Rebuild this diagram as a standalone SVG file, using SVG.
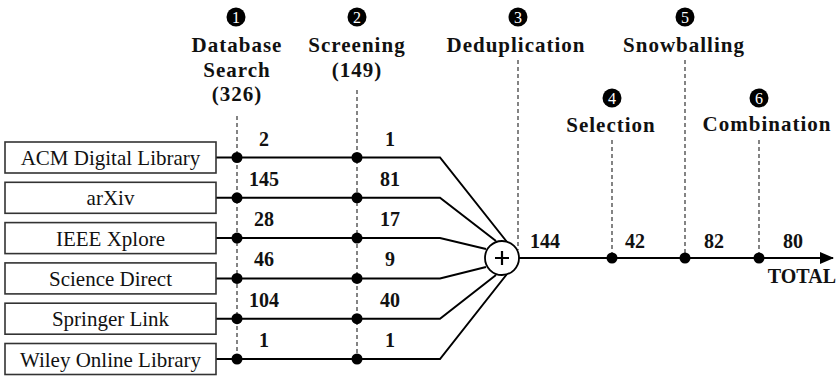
<svg xmlns="http://www.w3.org/2000/svg" width="837" height="377" viewBox="0 0 837 377">
<style>
.box{fill:#fff;stroke:#333;stroke-width:1.6}
.bt{font-family:"Liberation Serif","DejaVu Serif",serif;font-size:21px;fill:#111;text-anchor:middle}
.lb{font-family:"Liberation Serif","DejaVu Serif",serif;font-size:21px;font-weight:bold;fill:#111;text-anchor:middle;letter-spacing:1px}
.num{font-family:"Liberation Serif","DejaVu Serif",serif;font-size:20px;font-weight:bold;fill:#111;text-anchor:middle}
.mk{fill:#000}
.mt{font-family:"Liberation Serif","DejaVu Serif",serif;font-size:16px;fill:#fff;text-anchor:middle}
.ln{stroke:#000;stroke-width:2;fill:none}
.dash{stroke:#333;stroke-width:1.2;stroke-dasharray:4 3;fill:none}
.dot{fill:#000}
</style>
<defs>
<marker id="arr" markerWidth="14" markerHeight="12" refX="13" refY="6" orient="auto" markerUnits="userSpaceOnUse">
<path d="M0,0 L14,6 L0,12 z" fill="#000"/>
</marker>
</defs>

<g id="steps">
<g id="step1">
<circle class="mk" cx="236" cy="17" r="9.5"/><text class="mt" x="236" y="22.5">1</text>
<text class="lb" x="237" y="52">Database</text>
<text class="lb" x="237" y="77">Search</text>
<text class="lb" x="237" y="101">(326)</text>
</g>
<g id="step2">
<circle class="mk" cx="357" cy="17" r="9.5"/><text class="mt" x="357" y="22.5">2</text>
<text class="lb" x="357" y="52">Screening</text>
<text class="lb" x="357" y="77">(149)</text>
</g>
<g id="step3">
<circle class="mk" cx="518" cy="17" r="9.5"/><text class="mt" x="518" y="22.5">3</text>
<text class="lb" x="516" y="52">Deduplication</text>
</g>
<g id="step4">
<circle class="mk" cx="612" cy="98" r="9.5"/><text class="mt" x="612" y="103.5">4</text>
<text class="lb" x="611" y="132">Selection</text>
</g>
<g id="step5">
<circle class="mk" cx="685" cy="17" r="9.5"/><text class="mt" x="685" y="22.5">5</text>
<text class="lb" x="684" y="52">Snowballing</text>
</g>
<g id="step6">
<circle class="mk" cx="759" cy="98" r="9.5"/><text class="mt" x="759" y="103.5">6</text>
<text class="lb" x="767" y="131">Combination</text>
</g>
</g>

<g id="connectors">
<line class="dash" x1="237" y1="116" x2="237" y2="359"/>
<line class="dash" x1="357" y1="90" x2="357" y2="359"/>
<line class="dash" x1="518" y1="60" x2="518" y2="250"/>
<line class="dash" x1="612" y1="140" x2="612" y2="258"/>
<line class="dash" x1="685" y1="60" x2="685" y2="258"/>
<line class="dash" x1="759" y1="140" x2="759" y2="258"/>

<polyline class="ln" points="216,157.5 440,157.5 507,242"/>
<polyline class="ln" points="216,197.8 440,197.8 496,241"/>
<polyline class="ln" points="216,238.1 440,238.1 486,249"/>
<polyline class="ln" points="216,278.4 440,278.4 486,267"/>
<polyline class="ln" points="216,318.7 440,318.7 496,275"/>
<polyline class="ln" points="216,359 440,359 507,274"/>

<line class="ln" x1="519" y1="258" x2="833" y2="258" marker-end="url(#arr)"/>

<circle class="dot" cx="237" cy="157.5" r="5.5"/>
<circle class="dot" cx="237" cy="197.8" r="5.5"/>
<circle class="dot" cx="237" cy="238.1" r="5.5"/>
<circle class="dot" cx="237" cy="278.4" r="5.5"/>
<circle class="dot" cx="237" cy="318.7" r="5.5"/>
<circle class="dot" cx="237" cy="359" r="5.5"/>
<circle class="dot" cx="357" cy="157.5" r="5.5"/>
<circle class="dot" cx="357" cy="197.8" r="5.5"/>
<circle class="dot" cx="357" cy="238.1" r="5.5"/>
<circle class="dot" cx="357" cy="278.4" r="5.5"/>
<circle class="dot" cx="357" cy="318.7" r="5.5"/>
<circle class="dot" cx="357" cy="359" r="5.5"/>
<circle class="dot" cx="612" cy="258" r="5.5"/>
<circle class="dot" cx="685" cy="258" r="5.5"/>
<circle class="dot" cx="759" cy="258" r="5.5"/>

<text class="num" x="264" y="146">2</text>
<text class="num" x="264" y="186">145</text>
<text class="num" x="264" y="226">28</text>
<text class="num" x="264" y="266">46</text>
<text class="num" x="264" y="307">104</text>
<text class="num" x="264" y="347">1</text>
<text class="num" x="390" y="146">1</text>
<text class="num" x="390" y="186">81</text>
<text class="num" x="390" y="226">17</text>
<text class="num" x="390" y="266">9</text>
<text class="num" x="390" y="307">40</text>
<text class="num" x="390" y="347">1</text>
<text class="num" x="545" y="248">144</text>
<text class="num" x="635" y="248">42</text>
<text class="num" x="714" y="248">82</text>
<text class="num" x="793" y="248">80</text>
<text class="num" x="836" y="283" style="text-anchor:end">TOTAL</text>
</g>

<g id="sum">
<circle cx="502" cy="258" r="17" fill="#fff" stroke="#000" stroke-width="1.8"/>
<path d="M495,258 H509 M502,251 V265" stroke="#000" stroke-width="2.2"/>
</g>

<g id="sources">
<g id="acm"><rect class="box" x="5" y="142" width="211" height="31"/><text class="bt" x="110.5" y="165">ACM Digital Library</text></g>
<g id="arxiv"><rect class="box" x="5" y="182.3" width="211" height="31"/><text class="bt" x="110.5" y="205.3">arXiv</text></g>
<g id="ieee"><rect class="box" x="5" y="222.6" width="211" height="31"/><text class="bt" x="110.5" y="245.6">IEEE Xplore</text></g>
<g id="sd"><rect class="box" x="5" y="262.9" width="211" height="31"/><text class="bt" x="110.5" y="285.9">Science Direct</text></g>
<g id="springer"><rect class="box" x="5" y="303.2" width="211" height="31"/><text class="bt" x="110.5" y="326.2">Springer Link</text></g>
<g id="wiley"><rect class="box" x="5" y="343.5" width="211" height="31"/><text class="bt" x="110.5" y="366.5">Wiley Online Library</text></g>
</g>
</svg>
